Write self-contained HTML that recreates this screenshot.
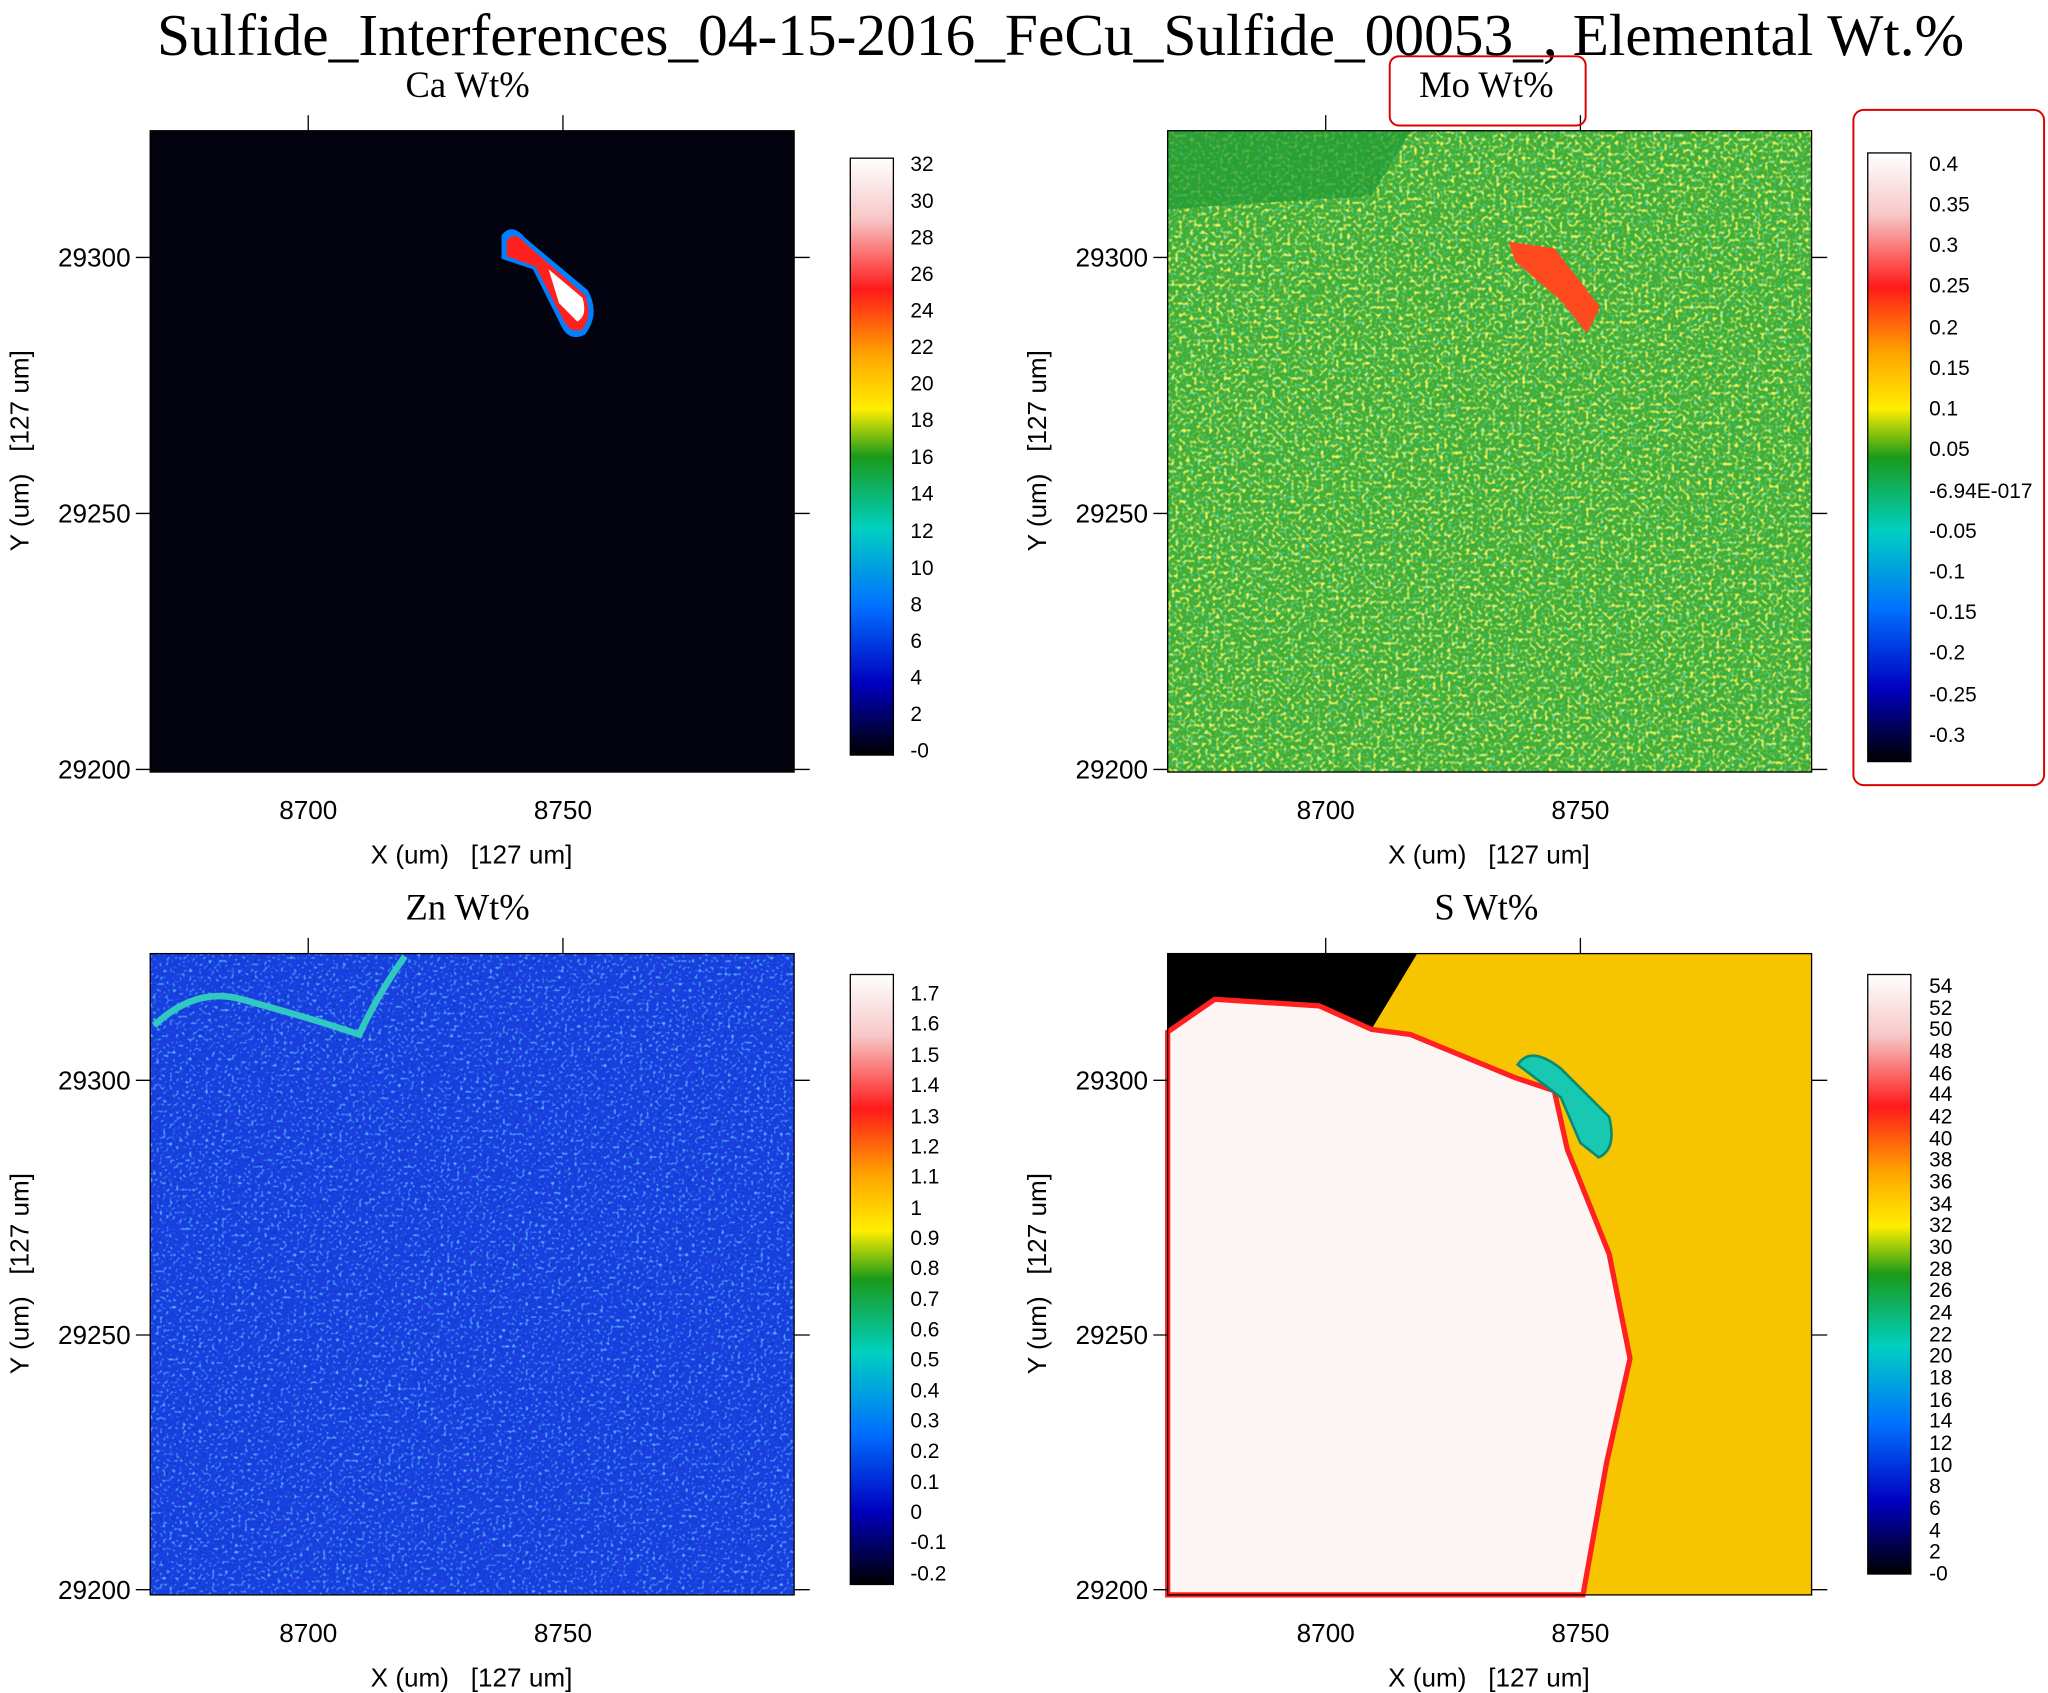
<!DOCTYPE html>
<html><head><meta charset="utf-8"><style>
html,body{margin:0;padding:0;background:#fff}
svg{display:block}
text{font-family:"Liberation Sans",sans-serif;white-space:pre}
.t{font-family:"Liberation Serif",serif}
</style></head><body>
<svg width="2048" height="1693" viewBox="0 0 1568 1296" xmlns="http://www.w3.org/2000/svg">
<defs>
<linearGradient id="cb" x1="0" y1="0" x2="0" y2="1">
<stop offset="0" stop-color="#ffffff"/><stop offset="0.1" stop-color="#f7c8c8"/>
<stop offset="0.22" stop-color="#ff1a1a"/><stop offset="0.33" stop-color="#ffa500"/>
<stop offset="0.42" stop-color="#ffee00"/><stop offset="0.5" stop-color="#1a9a1a"/>
<stop offset="0.62" stop-color="#00d0c0"/><stop offset="0.75" stop-color="#0070ff"/>
<stop offset="0.88" stop-color="#0000c0"/><stop offset="1" stop-color="#000000"/>
</linearGradient>
<filter id="ys" x="0" y="0" width="100%" height="100%">
<feTurbulence type="fractalNoise" baseFrequency="0.35" numOctaves="1" seed="5"/>
<feColorMatrix type="matrix" values="0 0 0 0 0.95  0 0 0 0 0.9  0 0 0 0 0.1  4 0 0 0 -2.0"/>
</filter>
<filter id="cs" x="0" y="0" width="100%" height="100%">
<feTurbulence type="fractalNoise" baseFrequency="0.35" numOctaves="1" seed="9"/>
<feColorMatrix type="matrix" values="0 0 0 0 0.1  0 0 0 0 0.8  0 0 0 0 0.8  4 0 0 0 -2.3"/>
</filter>
<filter id="bs" x="0" y="0" width="100%" height="100%">
<feTurbulence type="fractalNoise" baseFrequency="0.4" numOctaves="1" seed="2"/>
<feColorMatrix type="matrix" values="0 0 0 0 0.1  0 0 0 0 0.5  0 0 0 0 1  4 0 0 0 -2.2"/>
</filter>
<filter id="ds" x="0" y="0" width="100%" height="100%">
<feTurbulence type="fractalNoise" baseFrequency="0.4" numOctaves="1" seed="7"/>
<feColorMatrix type="matrix" values="0 0 0 0 0  0 0 0 0 0.05  0 0 0 0 0.5  4 0 0 0 -2.3"/>
</filter>
</defs>
<text class="t" x="812" y="42" font-size="45.5" text-anchor="middle">Sulfide_Interferences_04-15-2016_FeCu_Sulfide_00053_, Elemental Wt.%</text>

<g>
<rect x="115" y="100" width="493" height="491" fill="#03030f"/>
<path d="M384,180 Q392,170 402,182 L450,222 Q460,240 448,256 Q436,262 430,250 L408,206 L384,198 Z" fill="#0080ff"/>
<path d="M388,184 Q394,176 402,186 L448,226 Q454,242 446,252 Q438,256 432,246 L410,204 L388,196 Z" fill="#ff2020"/>
<path d="M420,206 L446,228 Q450,242 442,246 L428,232 Z" fill="#fff"/>
</g>
<g>
<rect x="894" y="100" width="493" height="491" fill="#3fae3a"/>
<rect x="894" y="100" width="493" height="491" filter="url(#ys)"/>
<rect x="894" y="100" width="493" height="491" filter="url(#cs)" opacity="0.8"/>
<path d="M894,100 L1080,100 L1050,150 L894,160 Z" fill="#1f9a35" opacity="0.7"/>
<path d="M1155,185 L1190,190 L1225,235 L1215,255 L1195,230 L1160,200 Z" fill="#ff4a20"/>
</g>
<g>
<rect x="115" y="730" width="493" height="491" fill="#1a3fe0"/>
<rect x="115" y="730" width="493" height="491" filter="url(#bs)"/>
<rect x="115" y="730" width="493" height="491" filter="url(#ds)"/>
<path d="M118,785 Q150,755 185,765 Q240,780 275,792 Q290,760 310,732" fill="none" stroke="#30c8c0" stroke-width="5"/>
</g>
<g>
<rect x="894" y="730" width="493" height="491" fill="#f7c400"/>
<path d="M894,730 L1085,730 L1050,788 L1010,770 L930,765 L894,790 Z" fill="#000"/>
<path d="M894,790 L930,765 L1010,770 L1050,788 L1080,792 L1160,825 L1190,835 L1200,880 L1232,960 L1248,1040 L1230,1120 L1212,1221 L894,1221 Z" fill="#fdf4f4" stroke="#ff2020" stroke-width="4"/>
<path d="M1162,815 Q1172,800 1195,818 L1232,855 Q1238,880 1224,886 L1210,875 L1195,840 Z" fill="#18c8b0" stroke="#0a8a70" stroke-width="2"/>
</g>

<g fill="none" stroke="#000" stroke-width="1">
<rect x="115" y="100" width="493" height="491"/><rect x="894" y="100" width="493" height="491"/>
<rect x="115" y="730" width="493" height="491"/><rect x="894" y="730" width="493" height="491"/>
<path d="M236,88V100M431,88V100M104,197H115M104,393H115M104,589H115M608,197H620M608,393H620M608,589H620
M1015,88V100M1210,88V100M883,197H894M883,393H894M883,589H894M1387,197H1399M1387,393H1399M1387,589H1399
M236,718V730M431,718V730M104,827H115M104,1022H115M104,1217H115M608,827H620M608,1022H620M608,1217H620
M1015,718V730M1210,718V730M883,827H894M883,1022H894M883,1217H894M1387,827H1399M1387,1022H1399M1387,1217H1399"/>
</g>
<g font-size="20" text-anchor="end">
<text x="100" y="204">29300</text><text x="100" y="400">29250</text><text x="100" y="596">29200</text>
<text x="879" y="204">29300</text><text x="879" y="400">29250</text><text x="879" y="596">29200</text>
<text x="100" y="834">29300</text><text x="100" y="1029">29250</text><text x="100" y="1224">29200</text>
<text x="879" y="834">29300</text><text x="879" y="1029">29250</text><text x="879" y="1224">29200</text>
</g>
<g font-size="20" text-anchor="middle">
<text x="236" y="627">8700</text><text x="431" y="627">8750</text><text x="1015" y="627">8700</text><text x="1210" y="627">8750</text>
<text x="236" y="1257">8700</text><text x="431" y="1257">8750</text><text x="1015" y="1257">8700</text><text x="1210" y="1257">8750</text>
<text x="361" y="661">X (um)   [127 um]</text><text x="1140" y="661">X (um)   [127 um]</text>
<text x="361" y="1291">X (um)   [127 um]</text><text x="1140" y="1291">X (um)   [127 um]</text>
<text transform="translate(22,345) rotate(-90)">Y (um)   [127 um]</text>
<text transform="translate(801,345) rotate(-90)">Y (um)   [127 um]</text>
<text transform="translate(22,975) rotate(-90)">Y (um)   [127 um]</text>
<text transform="translate(801,975) rotate(-90)">Y (um)   [127 um]</text>
</g>
<g font-size="28" text-anchor="middle">
<text class="t" x="358" y="74">Ca Wt%</text><text class="t" x="1138" y="74">Mo Wt%</text>
<text class="t" x="358" y="704">Zn Wt%</text><text class="t" x="1138" y="704">S Wt%</text>
</g>
<rect x="1064" y="43" width="150" height="53" rx="7" fill="none" stroke="#d00" stroke-width="1.5"/>
<rect x="1419" y="84" width="146" height="517" rx="8" fill="none" stroke="#d00" stroke-width="1.5"/>

<rect x="651" y="121" width="33" height="457" fill="url(#cb)" stroke="#000"/>
<rect x="1430" y="117" width="33" height="466" fill="url(#cb)" stroke="#000"/>
<rect x="651" y="746" width="33" height="467" fill="url(#cb)" stroke="#000"/>
<rect x="1430" y="746" width="33" height="459" fill="url(#cb)" stroke="#000"/>
<g font-size="16">
<g>
<text x="697" y="131">32</text><text x="697" y="159">30</text><text x="697" y="187">28</text><text x="697" y="215">26</text><text x="697" y="243">24</text><text x="697" y="271">22</text><text x="697" y="299">20</text><text x="697" y="327">18</text><text x="697" y="355">16</text><text x="697" y="383">14</text><text x="697" y="412">12</text><text x="697" y="440">10</text><text x="697" y="468">8</text><text x="697" y="496">6</text><text x="697" y="524">4</text><text x="697" y="552">2</text><text x="697" y="580">-0</text>
</g>
<g>
<text x="1477" y="131">0.4</text><text x="1477" y="162">0.35</text><text x="1477" y="193">0.3</text><text x="1477" y="224">0.25</text><text x="1477" y="256">0.2</text><text x="1477" y="287">0.15</text><text x="1477" y="318">0.1</text><text x="1477" y="349">0.05</text><text x="1477" y="381">-6.94E-017</text><text x="1477" y="412">-0.05</text><text x="1477" y="443">-0.1</text><text x="1477" y="474">-0.15</text><text x="1477" y="505">-0.2</text><text x="1477" y="537">-0.25</text><text x="1477" y="568">-0.3</text>
</g>
<g>
<text x="697" y="766">1.7</text><text x="697" y="789">1.6</text><text x="697" y="813">1.5</text><text x="697" y="836">1.4</text><text x="697" y="860">1.3</text><text x="697" y="883">1.2</text><text x="697" y="906">1.1</text><text x="697" y="930">1</text><text x="697" y="953">0.9</text><text x="697" y="976">0.8</text><text x="697" y="1000">0.7</text><text x="697" y="1023">0.6</text><text x="697" y="1046">0.5</text><text x="697" y="1070">0.4</text><text x="697" y="1093">0.3</text><text x="697" y="1116">0.2</text><text x="697" y="1140">0.1</text><text x="697" y="1163">0</text><text x="697" y="1186">-0.1</text><text x="697" y="1210">-0.2</text>
</g>
<g>
<text x="1477" y="760">54</text><text x="1477" y="777">52</text><text x="1477" y="793">50</text><text x="1477" y="810">48</text><text x="1477" y="827">46</text><text x="1477" y="843">44</text><text x="1477" y="860">42</text><text x="1477" y="877">40</text><text x="1477" y="893">38</text><text x="1477" y="910">36</text><text x="1477" y="927">34</text><text x="1477" y="943">32</text><text x="1477" y="960">30</text><text x="1477" y="977">28</text><text x="1477" y="993">26</text><text x="1477" y="1010">24</text><text x="1477" y="1027">22</text><text x="1477" y="1043">20</text><text x="1477" y="1060">18</text><text x="1477" y="1077">16</text><text x="1477" y="1093">14</text><text x="1477" y="1110">12</text><text x="1477" y="1127">10</text><text x="1477" y="1143">8</text><text x="1477" y="1160">6</text><text x="1477" y="1177">4</text><text x="1477" y="1193">2</text><text x="1477" y="1210">-0</text>
</g>
</g>
</svg>
</body></html>
